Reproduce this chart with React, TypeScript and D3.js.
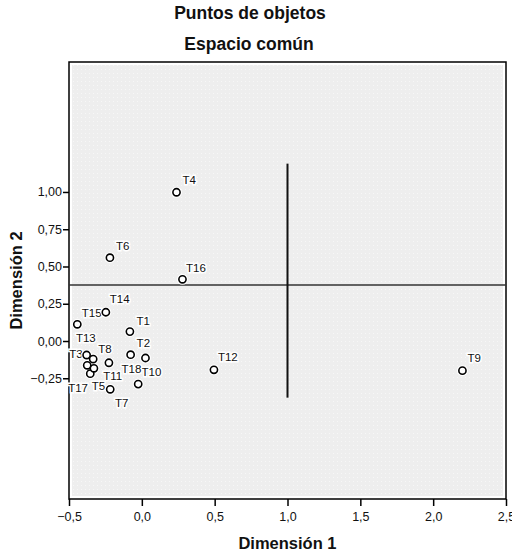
import React, { useEffect, useRef } from "react"
import * as d3 from "d3"

const labels = ["T1", "T2", "T3", "T4", "T5", "T6", "T7", "T8", "T9", "T10", "T11", "T12", "T13", "T14", "T15", "T16", "T17", "T18"]
const dim1 = [-0.082, -0.077, -0.379, 0.238, -0.354, -0.219, -0.217, -0.226, 2.201, 0.025, -0.329, 0.495, -0.334, -0.247, -0.443, 0.279, -0.375, -0.025]
const dim2 = [0.063, -0.092, -0.094, 0.998, -0.219, 0.559, -0.324, -0.146, -0.199, -0.114, -0.183, -0.193, -0.121, 0.193, 0.112, 0.414, -0.163, -0.289]
// where each label sits relative to its point (px)
const labelDx = [6.7, 6, -17.5, 6, 1.4, 6, 4.7, -10.7, 5, -4, 9.3, 4, -17.3, 4, 4.5, 3.5, -19, -16.6]
const labelDy = [-6.7, -8, 3.3, -8, 16.3, -7.7, 17.4, -9.4, -9, 18, 11.7, -9, -17.3, -9, -7.6, -7.5, 26.4, -10.7]

const xTicks = [-0.5, 0, 0.5, 1, 1.5, 2, 2.5]
const yTicks = [1, 0.75, 0.5, 0.25, 0, -0.25]
const xDomain = [-0.5, 2.5]
const yDomain = [-1.06, 1.872]
const refX = 1.0
const refY = 0.375
const refYSpan = [-0.38, 1.19]

const W = 512
const H = 556
const font = "'Liberation Sans', Arial, sans-serif"

export default function App() {
  const ref = useRef<SVGSVGElement>(null)

  useEffect(() => {
    const svg = d3.select(ref.current)
    svg.selectAll("*").remove()

    const left = 69, right = 506, top = 62, bottom = 499
    const x = d3.scaleLinear().domain(xDomain).range([left, right])
    const y = d3.scaleLinear().domain(yDomain).range([bottom, top])

    const pat = svg.append("defs").append("pattern")
      .attr("id", "dots")
      .attr("width", 4)
      .attr("height", 4)
      .attr("patternUnits", "userSpaceOnUse")
    pat.append("rect").attr("width", 4).attr("height", 4).attr("fill", "#eeeeee")
    pat.append("rect").attr("x", 1).attr("y", 1).attr("width", 1).attr("height", 1).attr("fill", "#f7f7f7")

    svg.append("rect").attr("width", W).attr("height", H).attr("fill", "#fff")

    // plot area
    svg.append("rect")
      .attr("x", left).attr("y", top)
      .attr("width", right - left).attr("height", bottom - top)
      .attr("fill", "#fff")
    svg.append("rect")
      .attr("x", left + 3).attr("y", top + 3)
      .attr("width", right - left - 6).attr("height", bottom - top - 6)
      .attr("fill", "url(#dots)")
    svg.append("rect")
      .attr("x", left).attr("y", top)
      .attr("width", right - left).attr("height", bottom - top)
      .attr("fill", "none")
      .attr("stroke", "#000")
      .attr("stroke-width", 1.5)

    // reference lines
    svg.append("line")
      .attr("x1", left).attr("x2", right)
      .attr("y1", y(refY)).attr("y2", y(refY))
      .attr("stroke", "#333").attr("stroke-width", 1.5)
    svg.append("line")
      .attr("x1", x(refX)).attr("x2", x(refX))
      .attr("y1", y(refYSpan[0])).attr("y2", y(refYSpan[1]))
      .attr("stroke", "#111").attr("stroke-width", 2)

    // axes
    const fmt1 = (d: number) => d3.format(".1f")(d).replace(".", ",")
    const fmt2 = (d: number) => d3.format(".2f")(d).replace(".", ",")

    const xAxis = svg.append("g")
      .attr("transform", `translate(0,${bottom})`)
      .call(d3.axisBottom(x).tickValues(xTicks).tickFormat(fmt1 as any).tickSize(7).tickSizeOuter(0))
    xAxis.select(".domain").remove()
    xAxis.selectAll("line").attr("stroke", "#000").attr("stroke-width", 1.5)
    xAxis.selectAll("text")
      .attr("font-family", font).attr("font-size", 12.5).attr("fill", "#111").attr("y", 13)

    const yAxis = svg.append("g")
      .attr("transform", `translate(${left},0)`)
      .call(d3.axisLeft(y).tickValues(yTicks).tickFormat(fmt2 as any).tickSize(6).tickSizeOuter(0))
    yAxis.select(".domain").remove()
    yAxis.selectAll("line").attr("stroke", "#000").attr("stroke-width", 1.5)
    yAxis.selectAll("text")
      .attr("font-family", font).attr("font-size", 12.5).attr("fill", "#111").attr("x", -7)

    // points
    const pts = labels.map((l, i) => ({ l, a: dim1[i], b: dim2[i], dx: labelDx[i], dy: labelDy[i] }))
    const g = svg.append("g")
    g.selectAll("text.lab").data(pts).enter().append("text")
      .attr("class", "lab")
      .attr("x", d => x(d.a) + d.dx)
      .attr("y", d => y(d.b) + d.dy)
      .attr("font-family", font).attr("font-size", 11.5)
      .attr("fill", "#111")
      .attr("stroke", "#fff").attr("stroke-width", 3).attr("paint-order", "stroke")
      .text(d => d.l)
    g.selectAll("circle.halo").data(pts).enter().append("circle")
      .attr("cx", d => x(d.a)).attr("cy", d => y(d.b)).attr("r", 5.5)
      .attr("fill", "#fff")
    g.selectAll("circle.pt").data(pts).enter().append("circle")
      .attr("cx", d => x(d.a)).attr("cy", d => y(d.b)).attr("r", 3.6)
      .attr("fill", "#fff").attr("stroke", "#000").attr("stroke-width", 1.6)

    // titles
    svg.append("text").attr("x", 250).attr("y", 19)
      .attr("text-anchor", "middle").attr("font-family", font)
      .attr("font-weight", "bold").attr("font-size", 17.5).attr("fill", "#111")
      .text("Puntos de objetos")
    svg.append("text").attr("x", 249).attr("y", 50)
      .attr("text-anchor", "middle").attr("font-family", font)
      .attr("font-weight", "bold").attr("font-size", 17.5).attr("fill", "#111")
      .text("Espacio común")
    svg.append("text").attr("x", (left + right) / 2).attr("y", 549)
      .attr("text-anchor", "middle").attr("font-family", font)
      .attr("font-weight", "bold").attr("font-size", 16.5).attr("fill", "#111")
      .text("Dimensión 1")
    svg.append("text")
      .attr("transform", `translate(22,${(top + bottom) / 2}) rotate(-90)`)
      .attr("text-anchor", "middle").attr("font-family", font)
      .attr("font-weight", "bold").attr("font-size", 16.5).attr("fill", "#111")
      .text("Dimensión 2")
  }, [])

  return <svg ref={ref} width={W} height={H} style={{ position: "absolute", left: 0, top: 0 }} />
}
